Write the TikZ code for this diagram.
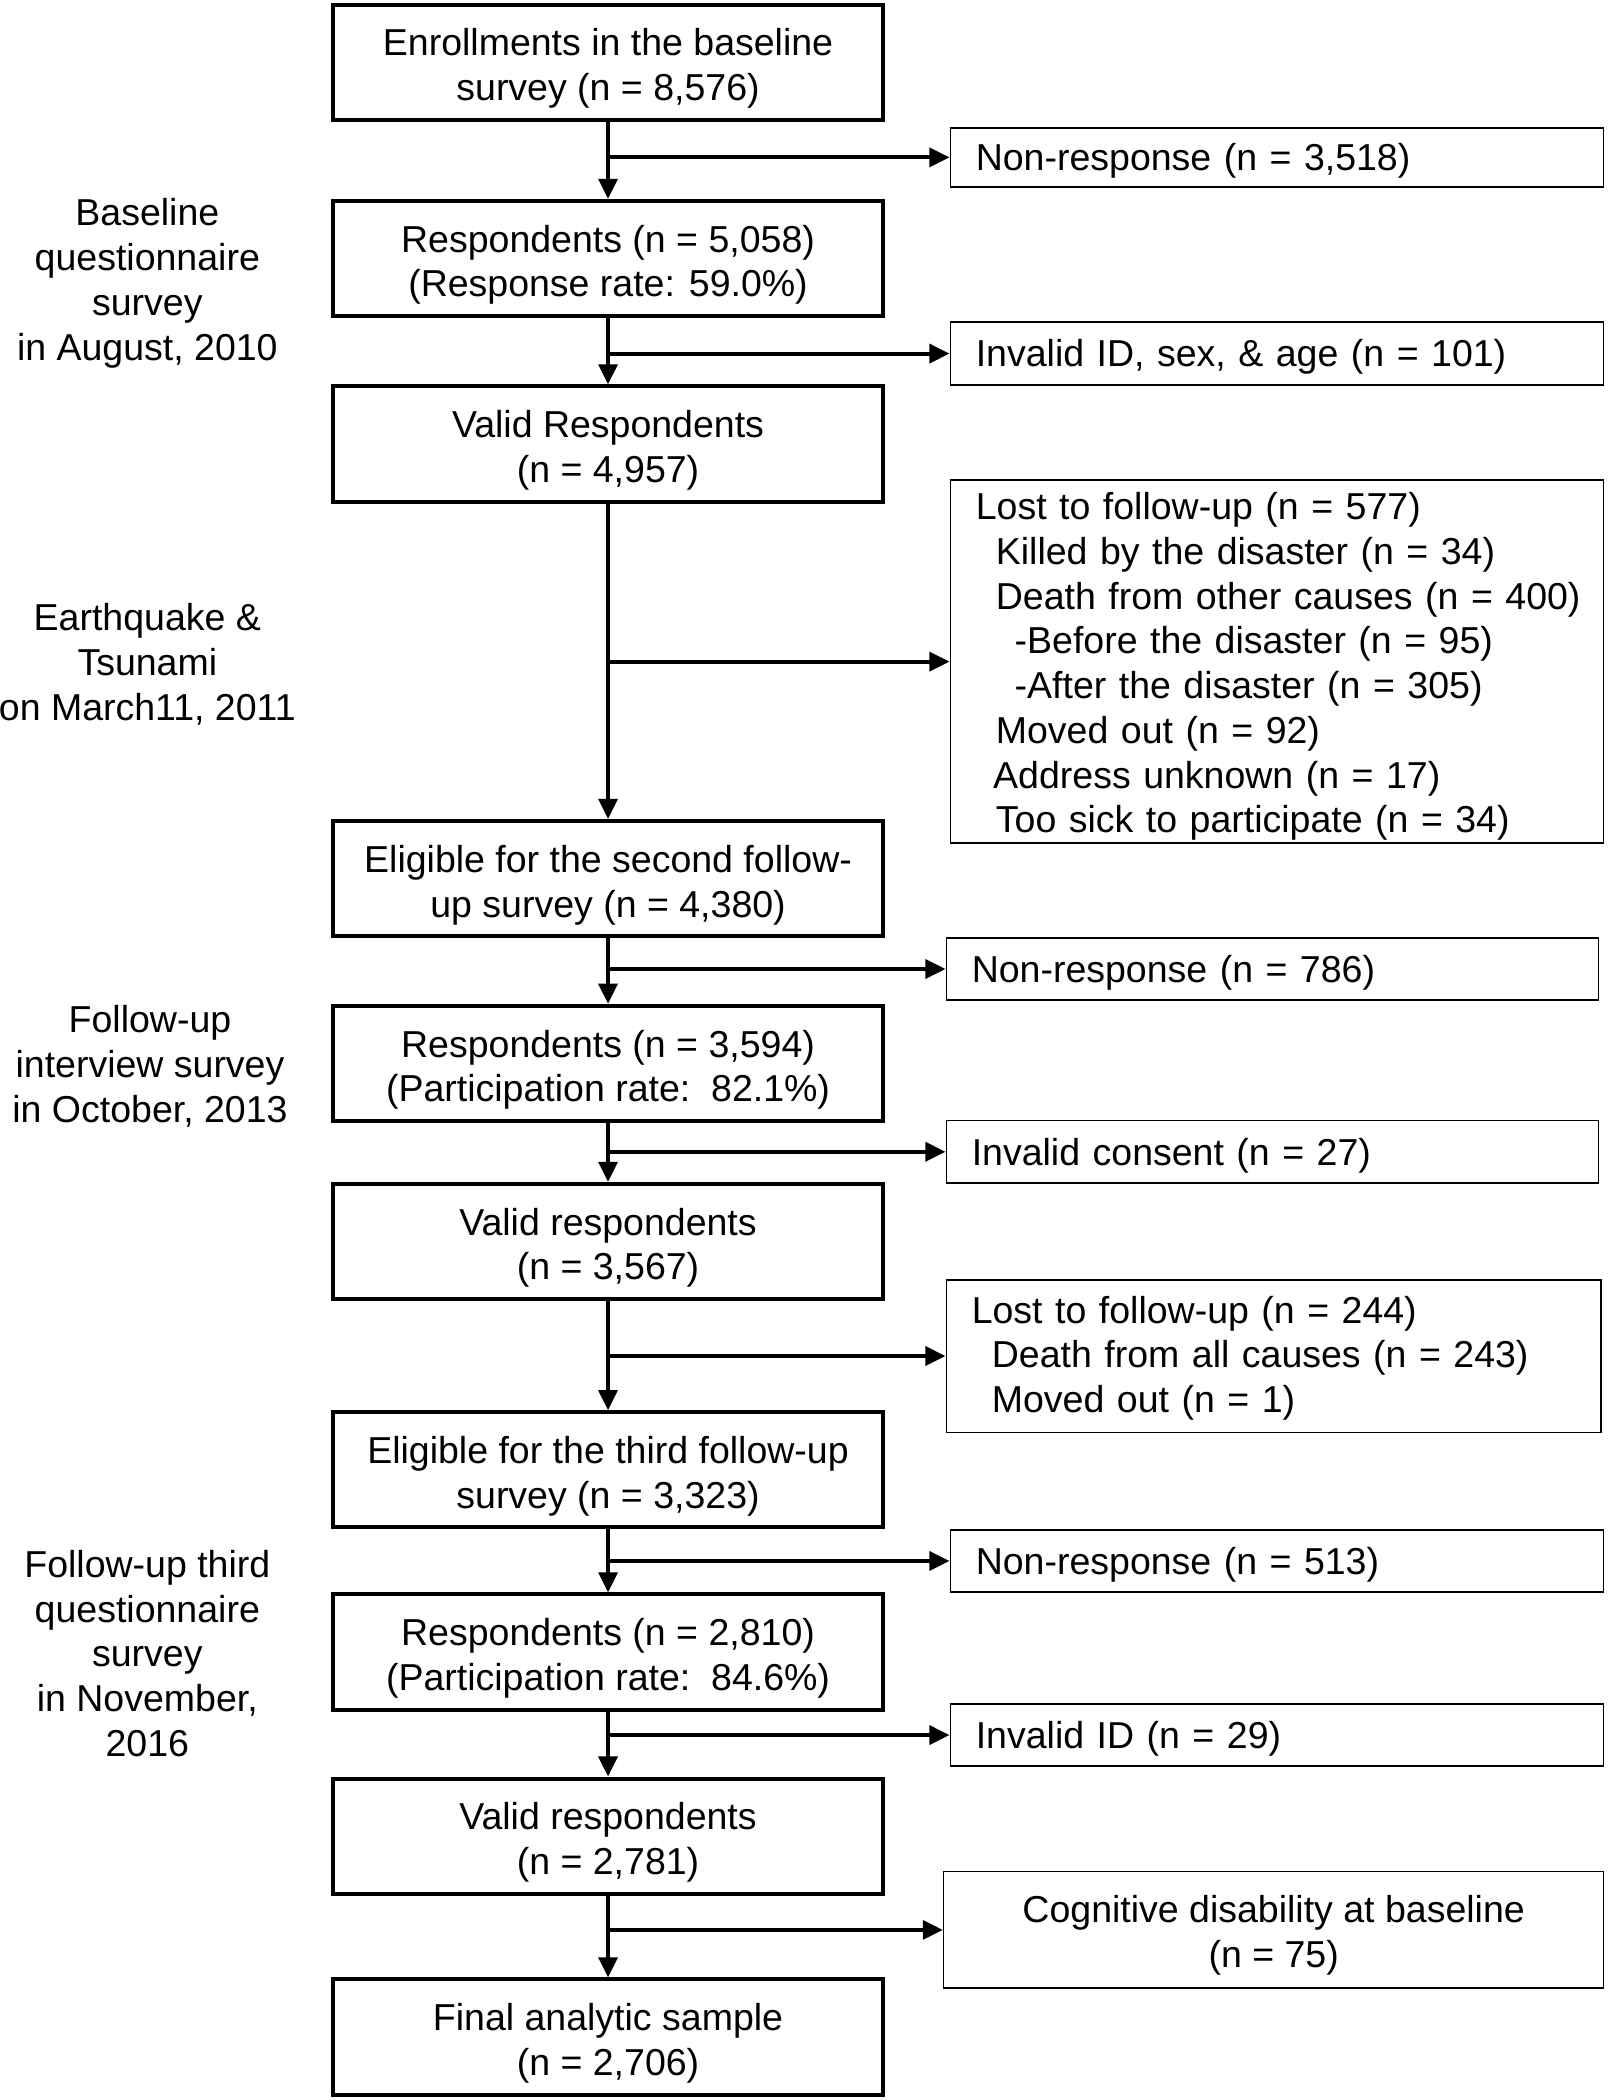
\documentclass[tikz,border=0pt]{standalone}
\usepackage{fontspec}
\setmainfont{Liberation Sans}
\usetikzlibrary{arrows.meta}
\newcommand{\bfnt}{\fontsize{28}{33.4}\selectfont}
\tikzset{
  mainbox/.style={draw, line width=3pt, minimum width=410pt, minimum height=86pt,
    align=center, inner sep=0pt, font=\bfnt, text height=58.4pt, text depth=1pt},
  sidebox/.style={draw, line width=1.2pt, align=left, inner xsep=19pt, inner ysep=0pt, font=\bfnt,
    text height=22pt, text depth=2pt},
  cbox/.style={draw, line width=1.2pt, align=center, inner sep=0pt, font=\bfnt,
    text height=57.4pt, text depth=1pt},
  phase/.style={align=center, inner sep=0pt, font=\bfnt},
  arr/.style={line width=3pt, -{Triangle[length=15pt,width=14pt]}},
}
\begin{document}
\begin{tikzpicture}[x=1pt, y=-1pt]
\useasboundingbox[fill=white] (0,0) rectangle (1200,1568);

% main column
\node[mainbox] (m1) at (454,46.5) {Enrollments in the baseline\\survey (n = 8,576)};
\node[mainbox] (m2) at (454,193) {Respondents (n = 5,058)\\(Response rate: 59.0\%)};
\node[mainbox] (m3) at (454,331.5) {Valid Respondents\\(n = 4,957)};
\node[mainbox] (m4) at (454,656) {Eligible for the second follow-\\up survey (n = 4,380)};
\node[mainbox] (m5) at (454,794) {Respondents (n = 3,594)\\(Participation rate:\ \ 82.1\%)};
\node[mainbox] (m6) at (454,927) {Valid respondents\\(n = 3,567)};
\node[mainbox] (m7) at (454,1097.5) {Eligible for the third follow-up\\survey (n = 3,323)};
\node[mainbox] (m8) at (454,1233.5) {Respondents (n = 2,810)\\(Participation rate:\ \ 84.6\%)};
\node[mainbox] (m9) at (454,1371) {Valid respondents\\(n = 2,781)};
\node[mainbox] (m10) at (454,1521) {Final analytic sample\\(n = 2,706)};

% side boxes
\node[sidebox, text width=449.8pt, minimum height=44pt] (r1) at (953.5,117.5) {Non-response (n = 3,518)};
\node[sidebox, text width=449.8pt, minimum height=47pt] (r2) at (953.5,264) {Invalid ID, sex, \& age (n = 101)};
\node[sidebox, text width=449.8pt, minimum height=271pt, text depth=234pt] (r3) at (953.5,494) {Lost to follow-up (n = 577)\\
\mbox{\hspace*{15pt}Killed by the disaster (n = 34)}\\
\mbox{\hspace*{15pt}Death from other causes (n = 400)}\\
\mbox{\hspace*{29pt}-Before the disaster (n = 95)}\\
\mbox{\hspace*{29pt}-After the disaster (n = 305)}\\
\mbox{\hspace*{15pt}Moved out (n = 92)}\\
\mbox{\hspace*{13pt}Address unknown (n = 17)}\\
\mbox{\hspace*{15pt}Too sick to participate (n = 34)}};
\node[sidebox, text width=448.8pt, minimum height=46pt] (r4) at (950,723.5) {Non-response (n = 786)};
\node[sidebox, text width=448.8pt, minimum height=47pt] (r5) at (950,860) {Invalid consent (n = 27)};
\node[sidebox, text width=450.8pt, minimum height=114pt, text depth=71pt] (r6) at (951,1012.5) {Lost to follow-up (n = 244)\\
\mbox{\hspace*{15pt}Death from all causes (n = 243)}\\
\mbox{\hspace*{15pt}Moved out (n = 1)}};
\node[sidebox, text width=449.8pt, minimum height=46pt] (r7) at (953.5,1165.5) {Non-response (n = 513)};
\node[sidebox, text width=449.8pt, minimum height=46pt] (r8) at (953.5,1295.5) {Invalid ID (n = 29)};
\node[cbox, minimum width=492.8pt, minimum height=87pt] (r9) at (951,1441) {Cognitive disability at baseline\\(n = 75)};

% phase labels
\node[phase] (p1) at (110,211.5) {Baseline\\questionnaire\\survey\\in August, 2010};
\node[phase] (p2) at (110,496) {Earthquake \&\\Tsunami\\on March11, 2011};
\node[phase] (p3) at (112,796) {Follow-up\\interview survey\\in October, 2013};
\node[phase] (p4) at (110,1234.5) {Follow-up third\\questionnaire\\survey\\in November,\\2016};

% vertical connectors
\draw[arr] (m1) -- (m2);
\draw[arr] (m2) -- (m3);
\draw[arr] (m3) -- (m4);
\draw[arr] (m4) -- (m5);
\draw[arr] (m5) -- (m6);
\draw[arr] (m6) -- (m7);
\draw[arr] (m7) -- (m8);
\draw[arr] (m8) -- (m9);
\draw[arr] (m9) -- (m10);

% horizontal connectors
\draw[arr] (m1.south |- r1.west) -- (r1.west);
\draw[arr] (m2.south |- r2.west) -- (r2.west);
\draw[arr] (m3.south |- r3.west) -- (r3.west);
\draw[arr] (m4.south |- r4.west) -- (r4.west);
\draw[arr] (m5.south |- r5.west) -- (r5.west);
\draw[arr] (m6.south |- r6.west) -- (r6.west);
\draw[arr] (m7.south |- r7.west) -- (r7.west);
\draw[arr] (m8.south |- r8.west) -- (r8.west);
\draw[arr] (m9.south |- r9.west) -- (r9.west);
\end{tikzpicture}
\end{document}
